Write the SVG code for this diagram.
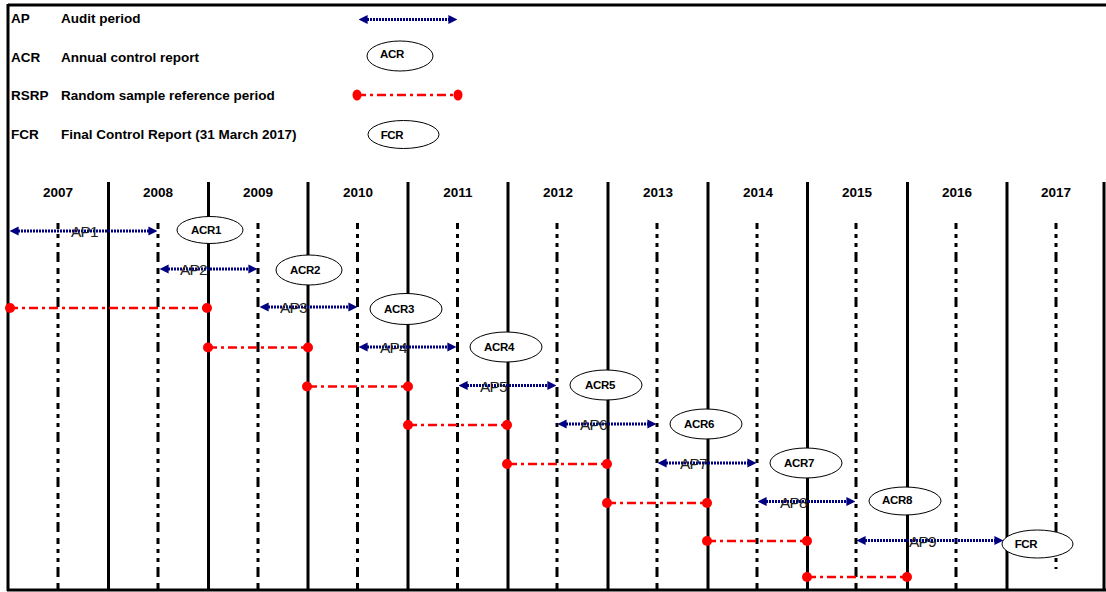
<svg xmlns="http://www.w3.org/2000/svg" width="1106" height="592" viewBox="0 0 1106 592">
<style>
text{font-family:"Liberation Sans",Arial,sans-serif}
.lg{font-size:13.5px;font-weight:bold;fill:#000}
.yr{font-size:13.5px;font-weight:bold;fill:#000;text-anchor:middle}
.ap{font-size:15.5px;fill:#222;letter-spacing:-0.8px}
.el{fill:#fff;stroke:#000;stroke-width:1}
.et{font-size:11.5px;font-weight:bold;fill:#000;text-anchor:middle;letter-spacing:-0.3px}
.frame{stroke:#000;stroke-width:3;fill:none}
.solid{stroke:#000;stroke-width:3}
.dash{stroke:#000;stroke-width:3;stroke-dasharray:6 5 4 5 4 5 10 6}
.apl{stroke:#000080;stroke-width:3;stroke-dasharray:2 1;fill:none}
.rs{stroke:#ff0000;stroke-width:2.5;stroke-dasharray:9 4 3 4;fill:none}
.dot{fill:#ff0000}
</style>
<defs>
<marker id="ah" viewBox="0 0 10 10" markerUnits="userSpaceOnUse" markerWidth="9" markerHeight="10" refX="4" refY="5" orient="auto-start-reverse">
<path d="M0,0 L10,5 L0,10 z" fill="#000080"/>
</marker>
</defs>
<rect width="1106" height="592" fill="#fff"/>
<g id="frame">
<line class="frame" x1="8" y1="5" x2="1106" y2="5"/>
<line class="frame" x1="8" y1="4" x2="8" y2="591"/>
<line class="frame" x1="7" y1="590" x2="1106" y2="590"/>
<line class="frame" x1="1104" y1="182" x2="1104" y2="591"/>
</g>
<g id="legend">
<text class="lg" x="11" y="23">AP</text>
<text class="lg" x="61" y="23">Audit period</text>
<text class="lg" x="11" y="62">ACR</text>
<text class="lg" x="61" y="62">Annual control report</text>
<text class="lg" x="11" y="100">RSRP</text>
<text class="lg" x="61" y="100">Random sample reference period</text>
<text class="lg" x="11" y="139">FCR</text>
<text class="lg" x="61" y="139">Final Control Report (31 March 2017)</text>
<line class="apl" x1="364" y1="19.5" x2="452" y2="19.5" marker-start="url(#ah)" marker-end="url(#ah)"/>
<ellipse class="el" cx="400" cy="56" rx="33" ry="15"/>
<text class="et" x="392" y="58">ACR</text>
<line class="rs" x1="357" y1="95" x2="458" y2="95"/>
<ellipse class="dot" cx="357" cy="95" rx="4.5" ry="5.5"/>
<ellipse class="dot" cx="458" cy="95" rx="4.5" ry="5.5"/>
<ellipse class="el" cx="403.5" cy="134.5" rx="35.5" ry="14"/>
<text class="et" x="392" y="139">FCR</text>
</g>
<g id="grid">
<line class="solid" x1="108.5" y1="182" x2="108.5" y2="590"/>
<line class="solid" x1="208.5" y1="182" x2="208.5" y2="590"/>
<line class="solid" x1="308" y1="182" x2="308" y2="590"/>
<line class="solid" x1="408" y1="182" x2="408" y2="590"/>
<line class="solid" x1="508" y1="182" x2="508" y2="590"/>
<line class="solid" x1="608" y1="182" x2="608" y2="590"/>
<line class="solid" x1="708" y1="182" x2="708" y2="590"/>
<line class="solid" x1="807.5" y1="182" x2="807.5" y2="590"/>
<line class="solid" x1="907.5" y1="182" x2="907.5" y2="590"/>
<line class="solid" x1="1007" y1="182" x2="1007" y2="590"/>
<line class="dash" x1="58" y1="223" x2="58" y2="589"/>
<line class="dash" x1="158" y1="223" x2="158" y2="589"/>
<line class="dash" x1="258" y1="223" x2="258" y2="589"/>
<line class="dash" x1="357.5" y1="223" x2="357.5" y2="589"/>
<line class="dash" x1="457.5" y1="223" x2="457.5" y2="589"/>
<line class="dash" x1="557" y1="223" x2="557" y2="589"/>
<line class="dash" x1="657" y1="223" x2="657" y2="589"/>
<line class="dash" x1="757" y1="223" x2="757" y2="589"/>
<line class="dash" x1="856" y1="223" x2="856" y2="589"/>
<line class="dash" x1="956" y1="223" x2="956" y2="589"/>
<line class="dash" x1="1056" y1="223" x2="1056" y2="569"/>
<text class="yr" x="58" y="197">2007</text>
<text class="yr" x="158" y="197">2008</text>
<text class="yr" x="258" y="197">2009</text>
<text class="yr" x="358" y="197">2010</text>
<text class="yr" x="458" y="197">2011</text>
<text class="yr" x="558" y="197">2012</text>
<text class="yr" x="658" y="197">2013</text>
<text class="yr" x="758" y="197">2014</text>
<text class="yr" x="857" y="197">2015</text>
<text class="yr" x="957" y="197">2016</text>
<text class="yr" x="1056" y="197">2017</text>
</g>
<g id="connectors">
<line class="rs" x1="9" y1="308" x2="208" y2="308"/>
<line class="rs" x1="208" y1="347.5" x2="308" y2="347.5"/>
<line class="rs" x1="308" y1="386.5" x2="408" y2="386.5"/>
<line class="rs" x1="408" y1="425" x2="508" y2="425"/>
<line class="rs" x1="508" y1="464" x2="607" y2="464"/>
<line class="rs" x1="607" y1="503" x2="707" y2="503"/>
<line class="rs" x1="707" y1="541" x2="807" y2="541"/>
<line class="rs" x1="807" y1="577" x2="907" y2="577"/>
<g class="dot">
<circle cx="10" cy="308" r="5"/><circle cx="207" cy="308" r="5"/>
<circle cx="208" cy="347.5" r="5"/><circle cx="308" cy="347.5" r="5"/>
<circle cx="307" cy="386.5" r="5"/><circle cx="408" cy="386.5" r="5"/>
<circle cx="408" cy="425" r="5"/><circle cx="507" cy="425" r="5"/>
<circle cx="507" cy="464" r="5"/><circle cx="607" cy="464" r="5"/>
<circle cx="607" cy="503" r="5"/><circle cx="707" cy="503" r="5"/>
<circle cx="707" cy="541" r="5"/><circle cx="807" cy="541" r="5"/>
<circle cx="807" cy="577" r="5"/><circle cx="907" cy="577" r="5"/>
</g>
<line class="apl" x1="15" y1="231" x2="152" y2="231" marker-start="url(#ah)" marker-end="url(#ah)"/>
<line class="apl" x1="165" y1="269" x2="252" y2="269" marker-start="url(#ah)" marker-end="url(#ah)"/>
<line class="apl" x1="265" y1="307" x2="352" y2="307" marker-start="url(#ah)" marker-end="url(#ah)"/>
<line class="apl" x1="364" y1="347" x2="451" y2="347" marker-start="url(#ah)" marker-end="url(#ah)"/>
<line class="apl" x1="464" y1="385.5" x2="551" y2="385.5" marker-start="url(#ah)" marker-end="url(#ah)"/>
<line class="apl" x1="563" y1="424" x2="651" y2="424" marker-start="url(#ah)" marker-end="url(#ah)"/>
<line class="apl" x1="663" y1="463" x2="751" y2="463" marker-start="url(#ah)" marker-end="url(#ah)"/>
<line class="apl" x1="763" y1="501.5" x2="850" y2="501.5" marker-start="url(#ah)" marker-end="url(#ah)"/>
<line class="apl" x1="862" y1="540.5" x2="998" y2="540.5" marker-start="url(#ah)" marker-end="url(#ah)"/>
<text class="ap" x="71" y="237">AP1</text>
<text class="ap" x="180" y="275">AP2</text>
<text class="ap" x="280" y="313">AP3</text>
<text class="ap" x="380" y="353">AP4</text>
<text class="ap" x="480" y="391.5">AP5</text>
<text class="ap" x="580" y="430">AP6</text>
<text class="ap" x="680" y="469">AP7</text>
<text class="ap" x="780" y="507.5">AP8</text>
<text class="ap" x="909" y="546.5">AP9</text>
</g>
<g id="ACR1"><ellipse class="el" cx="210" cy="230" rx="33" ry="13.5"/><text class="et" x="206" y="234">ACR1</text></g>
<g id="ACR2"><ellipse class="el" cx="309" cy="270" rx="33" ry="15"/><text class="et" x="305" y="274">ACR2</text></g>
<g id="ACR3"><ellipse class="el" cx="406" cy="309" rx="36" ry="15.5"/><text class="et" x="399" y="313">ACR3</text></g>
<g id="ACR4"><ellipse class="el" cx="506" cy="347" rx="36" ry="15"/><text class="et" x="499" y="351">ACR4</text></g>
<g id="ACR5"><ellipse class="el" cx="606" cy="385" rx="36" ry="15"/><text class="et" x="600" y="389">ACR5</text></g>
<g id="ACR6"><ellipse class="el" cx="706" cy="424" rx="36" ry="15"/><text class="et" x="699" y="428">ACR6</text></g>
<g id="ACR7"><ellipse class="el" cx="806" cy="463" rx="36" ry="15"/><text class="et" x="799" y="467">ACR7</text></g>
<g id="ACR8"><ellipse class="el" cx="905" cy="501" rx="36" ry="14"/><text class="et" x="897" y="504">ACR8</text></g>
<g id="FCR"><ellipse class="el" cx="1037.5" cy="544" rx="35.5" ry="14"/><text class="et" x="1026" y="548">FCR</text></g>
</svg>
